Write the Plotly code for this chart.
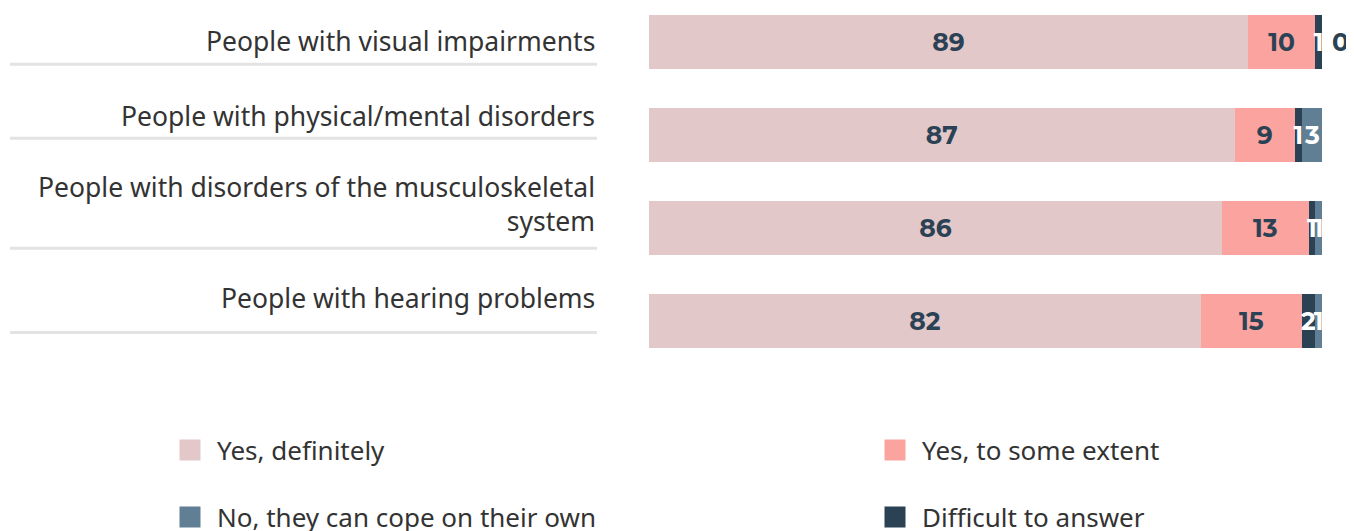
import plotly.graph_objects as go

categories = [
    "People with visual impairments",
    "People with physical/mental disorders",
    "People with disorders of the musculoskeletal<br>system",
    "People with hearing problems",
]
yes_definitely = [89, 87, 86, 82]
yes_some_extent = [10, 9, 13, 15]
difficult = [1, 1, 1, 2]
no_cope = [0, 3, 1, 1]

series_names = ["Yes, definitely", "Yes, to some extent", "Difficult to answer", "No, they can cope on their own"]
series_values = [yes_definitely, yes_some_extent, difficult, no_cope]
colors = ["#e3c8c9", "#fba39f", "#2b4255", "#617f94"]
inside_colors = ["#2b4255", "#2b4255", "#ffffff", "#ffffff"]

# page body has an 8px margin; figure sized to fit the window
W, H = 1346, 523
L, R, T, B = 641, 32, 0, 163
plot_w = W - L - R

num_font = dict(family="Montserrat, Open Sans, sans-serif", size=25, color="#2b4255", weight=700)

fig = go.Figure()
for name, vals, col, icol in zip(series_names, series_values, colors, inside_colors):
    positions = ["outside" if v == 0 else "inside" for v in vals]
    templates = ["\u00a0%{text}" if v == 0 else "%{text}" for v in vals]
    fig.add_trace(go.Bar(
        y=categories, x=vals, orientation="h", name=name,
        marker=dict(color=col, line=dict(width=0)),
        width=0.58,
        text=vals, texttemplate=templates,
        textposition=positions, insidetextanchor="middle",
        textangle=0, constraintext="none", cliponaxis=False,
        insidetextfont=dict(num_font, color=icol),
        outsidetextfont=dict(num_font, color="#2b4255"),
        showlegend=False, hoverinfo="skip",
    ))

# legend entries: one legend per entry, arranged in a 2x2 grid
legend_layout = [
    ("legend", "Yes, definitely", 155, 442),
    ("legend2", "Yes, to some extent", 860, 442),
    ("legend3", "No, they can cope on their own", 155, 509),
    ("legend4", "Difficult to answer", 860, 509),
]
leg_common = dict(
    orientation="h", xref="container", yref="container", xanchor="left", yanchor="middle",
    font=dict(family="Noto Sans, Open Sans, sans-serif", size=26, color="#333333"),
    itemsizing="trace", itemwidth=44, bgcolor="rgba(0,0,0,0)",
)
legends = {}
for lg, n, lx, ly in legend_layout:
    c = colors[series_names.index(n)]
    fig.add_trace(go.Scatter(
        x=[None], y=[None], mode="markers", name=n, legend=lg,
        marker=dict(symbol="square", size=16, color=c, line=dict(color=c, width=5)),
        showlegend=True,
    ))
    legends[lg] = dict(leg_common, x=lx / W, y=1 - ly / H)

label_shift = [1, 19, 24, 23]
line_offset = [-22, -3, -20, -11]
annotations = []
shapes = []
x_label = (589 - L) / plot_w
x_line0 = (2 - L) / plot_w
for i, cat in enumerate(categories):
    annotations.append(dict(
        x=x_label, xref="paper", y=cat, yref="y", yshift=label_shift[i],
        text=cat, showarrow=False, xanchor="right", align="right", yanchor="middle",
        font=dict(family="Noto Sans, Open Sans, sans-serif", size=26.5, color="#333333"),
    ))
    shapes.append(dict(
        type="line", xref="paper", x0=x_line0, x1=x_label,
        yref="y", ysizemode="pixel", yanchor=i, y0=line_offset[i], y1=line_offset[i],
        line=dict(color="#e3e3e3", width=3),
    ))

fig.update_layout(
    width=W, height=H,
    margin=dict(l=L, r=R, t=T, b=B),
    paper_bgcolor="white", plot_bgcolor="white",
    barmode="stack", barnorm="percent",
    xaxis=dict(range=[0, 100], visible=False, fixedrange=True),
    yaxis=dict(type="category", categoryarray=categories, range=[3.5, -0.367],
               showticklabels=False, showgrid=False, zeroline=False, showline=False, ticks=""),
    annotations=annotations,
    shapes=shapes,
    **legends,
)

fig.write_html("out.html")
